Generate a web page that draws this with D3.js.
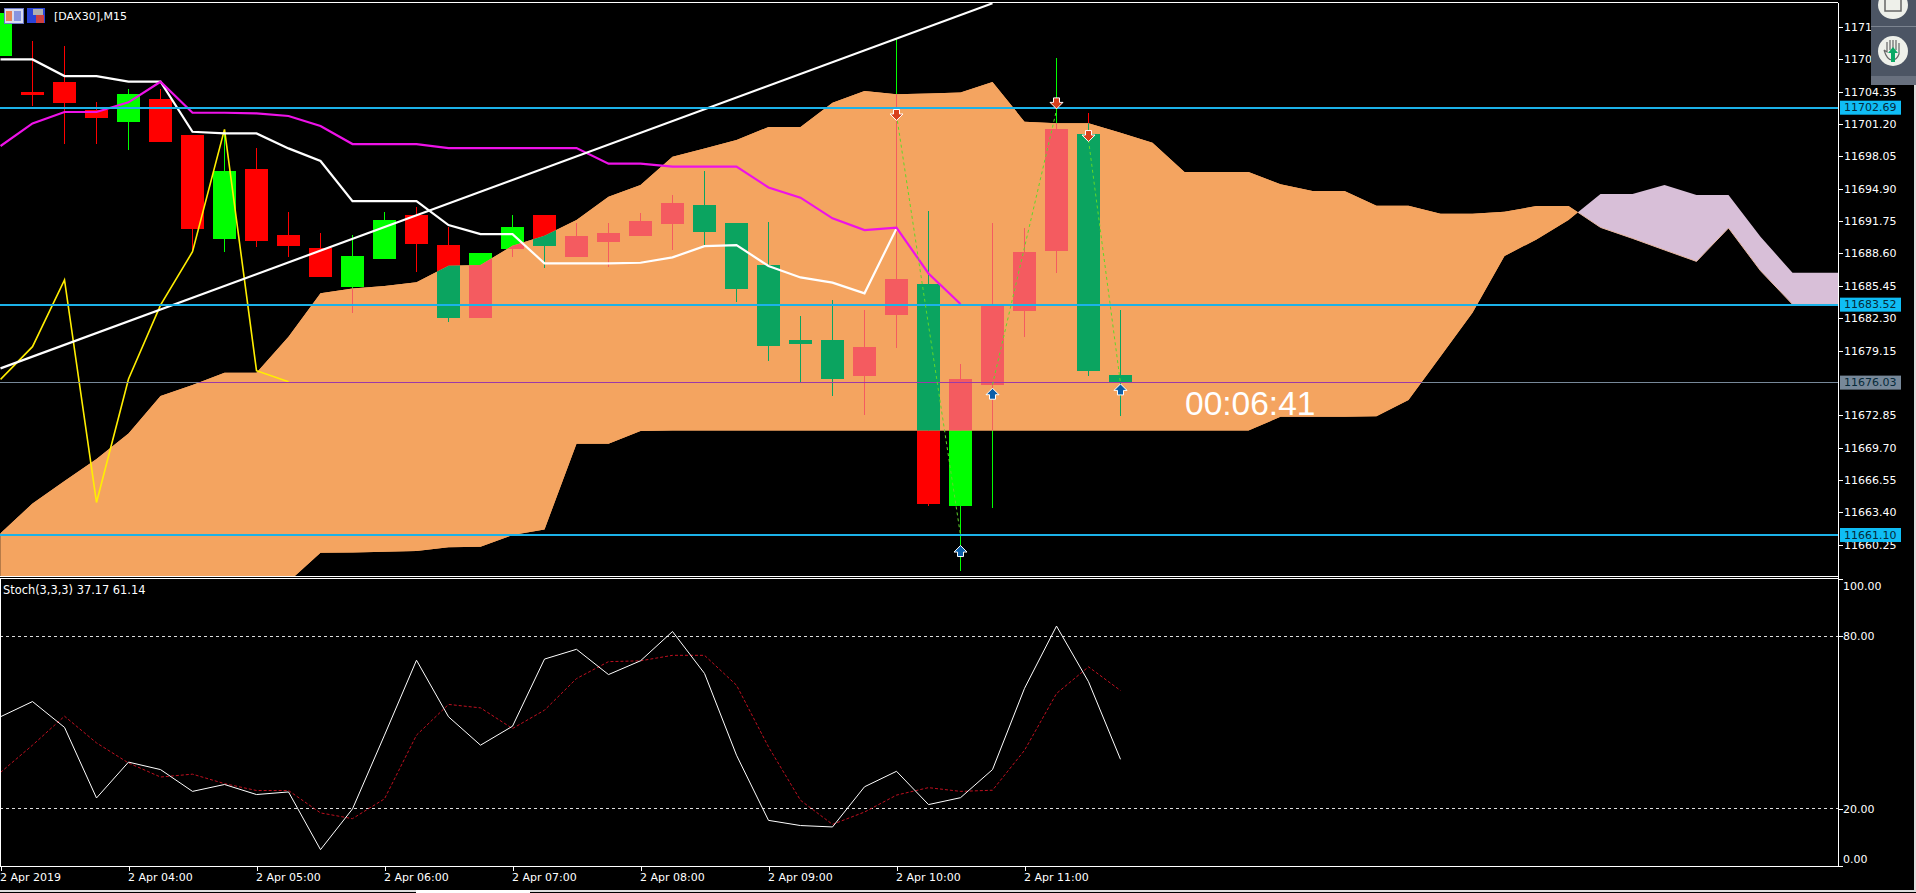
<!DOCTYPE html>
<html><head><meta charset="utf-8"><title>DAX30 M15</title>
<script src="https://cdnjs.cloudflare.com/ajax/libs/d3/7.8.5/d3.min.js"></script>
<style>
html,body{margin:0;padding:0;background:#000;overflow:hidden}
svg{display:block}
text{font-family:"DejaVu Sans",sans-serif;fill:#fff}
</style></head><body>
<svg id="c" width="1916" height="893"></svg>
<script>
// ---------- data ----------
const title = "[DAX30],M15";
const stochTitle = "Stoch(3,3,3) 37.17 61.14";
const timerText = "00:06:41";
const opens  = [11707.75,11704.21,11705.19,11702.46,11701.29,11703.53,11700.03,11689.91,11696.72,11690.30,11689.03,11685.23,11687.96,11692.24,11689.32,11682.25,11688.93,11692.24,11688.19,11689.61,11690.20,11691.37,11693.22,11691.46,11687.37,11680.07,11680.07,11676.57,11682.54,11685.53,11663.95,11675.73,11682.93,11688.77,11700.13,11676.67];
const closes = [11711.87,11703.92,11703.14,11701.72,11704.02,11699.35,11690.88,11696.52,11689.71,11689.22,11686.24,11688.25,11691.76,11689.42,11682.25,11688.51,11691.07,11689.26,11690.20,11690.52,11691.66,11693.41,11690.59,11685.04,11679.49,11679.69,11676.31,11679.39,11685.98,11664.11,11676.28,11683.58,11688.64,11700.61,11677.09,11675.89];
const highs  = [11711.87,11709.21,11708.69,11703.24,11704.51,11704.51,11700.03,11700.19,11698.73,11692.53,11690.46,11690.26,11692.53,11692.99,11691.11,11688.51,11692.24,11692.24,11691.50,11691.50,11692.40,11694.19,11696.52,11691.46,11691.59,11682.41,11683.97,11682.99,11709.44,11692.66,11677.74,11691.50,11690.94,11707.49,11702.14,11682.99];
const lows   = [11707.75,11702.85,11699.19,11699.19,11698.60,11699.35,11688.67,11688.67,11689.16,11688.19,11686.24,11682.67,11687.96,11686.73,11681.86,11682.25,11688.19,11687.05,11688.19,11687.21,11690.20,11688.83,11689.16,11683.81,11678.03,11675.92,11674.62,11672.77,11679.33,11663.92,11657.62,11663.69,11680.33,11686.56,11676.57,11672.71];
const tenkan = [11707.39,11707.39,11705.77,11705.77,11705.22,11705.22,11700.35,11700.19,11700.19,11698.73,11697.50,11693.60,11693.60,11693.60,11691.27,11690.39,11690.39,11687.54,11687.54,11687.54,11687.60,11688.12,11689.22,11689.32,11687.28,11686.17,11685.66,11684.62,11690.94];
const kijun  = [11698.96,11701.16,11702.27,11702.27,11703.21,11705.22,11702.20,11702.20,11702.14,11701.88,11700.91,11699.15,11699.15,11699.15,11698.76,11698.76,11698.76,11698.76,11698.76,11697.24,11697.24,11696.95,11696.95,11696.95,11694.93,11693.93,11691.92,11690.78,11691.01,11686.56,11683.58];
const chikou = [11676.25,11679.43,11685.92,11664.27,11676.28,11683.48,11688.67,11700.58,11677.09,11676.02];
const spanA  = [11654,11654,11654,11654,11654,11654,11654,11654,11654,11656.55,11659.37,11659.40,11659.47,11659.54,11659.92,11659.96,11661.09,11661.64,11669.98,11669.98,11671.22,11671.28,11671.28,11671.28,11671.28,11671.28,11671.28,11671.28,11671.28,11671.28,11671.28,11671.28,11671.28,11671.28,11671.28,11671.28,11671.28,11671.28,11671.28,11671.28,11672.61,11672.61,11672.61,11672.65,11674.23,11678.48,11682.74,11688.25,11689.87,11691.76,11694.29,11694.29,11695.16,11694.19,11694.19,11690.13,11686.63,11686.63,11686.63];
const spanB  = [11661.26,11664.17,11666.35,11668.49,11670.99,11674.62,11675.69,11676.89,11676.89,11680.40,11684.62,11685.10,11685.33,11685.69,11687.31,11687.37,11689.26,11690.23,11691.76,11694.03,11695.16,11697.92,11698.73,11699.54,11700.81,11700.81,11703.18,11704.31,11703.99,11704.08,11704.18,11705.19,11701.33,11701.17,11701.17,11700.26,11699.28,11696.43,11696.43,11696.43,11695.23,11694.58,11694.58,11693.15,11693.15,11692.37,11692.37,11692.57,11693.12,11693.12,11691.04,11689.97,11688.84,11687.73,11690.98,11686.82,11683.55,11683.55,11683.55];
const trendIdx = [0,31];
const trendPrice = [11677.32,11712.85];
const levelPrices = [11702.69,11683.52,11661.10];
const bidPrice = 11676.03;
const priceTicks = [11710.65,11707.50,11704.35,11701.20,11698.05,11694.90,11691.75,11688.60,11685.45,11682.30,11679.15,11672.85,11669.70,11666.55,11663.40,11660.25];
const stochMain = [52.0,57.3,48.3,23.7,36.2,33.6,26.0,28.4,24.9,25.8,5.7,19.9,45.6,71.7,52.0,42.1,48.7,72.1,75.5,66.7,71.5,81.7,67.1,38.6,15.9,14.1,13.6,27.6,33.0,21.4,23.8,33.6,61.9,83.6,64.2,37.17];
const stochSignal = [32.6,42.1,52.2,42.9,35.9,31.0,32.0,28.7,26.3,26.3,18.5,16.5,23.4,45.6,56.3,55.1,47.9,54.3,65.3,71.2,71.5,73.4,73.4,63.0,41.5,22.9,14.5,18.8,24.7,27.3,26.0,26.4,40.3,60.1,69.4,61.14];
const stochLevels = [80,20];
const stochTicks = [100,80,20,0];
const timeTickIdx = [0,4,8,12,16,20,24,28,32];
const timeLabels = ["2 Apr 2019","2 Apr 04:00","2 Apr 05:00","2 Apr 06:00","2 Apr 07:00","2 Apr 08:00","2 Apr 09:00","2 Apr 10:00","2 Apr 11:00"];
const zigzagSegments = [[[28,11701.98],[30,11661.09]],[[31,11675.73],[33,11702.46]],[[34,11699.54],[35,11675.86]]];
const sellArrowIdx = [28,33,34];
const sellArrowPrice = [11701.98,11703.11,11699.93];
const buyArrowIdx = [30,31,35];
const buyArrowPrice = [11659.54,11674.85,11675.27];

// ---------- layout ----------
const W=1916,H=893,R=1838,T=3,B=576,ST=579,SB=866;
const FONT='"DejaVu Sans",sans-serif';
const svg=d3.select("#c");
const x=d3.scaleLinear().domain([0,60]).range([0.5,1920.5]);
const y=d3.scaleLinear().domain([11712.88,11657.11]).range([T,B]);
const ys=d3.scaleLinear().domain([0,100]).range([SB,ST]);
const defs=svg.append("defs");
defs.append("clipPath").attr("id","pane").append("rect").attr("x",0).attr("y",T).attr("width",R).attr("height",B-T);

// ---------- cloud ----------
let cross=0;
for(let i=0;i<spanA.length-1;i++){ if(spanB[i]>spanA[i] && spanB[i+1]<spanA[i+1]){
  const d0=spanB[i]-spanA[i], d1=spanA[i+1]-spanB[i+1], t=d0/(d0+d1);
  cross={i:i+t,a:spanA[i]+t*(spanA[i+1]-spanA[i]),b:spanA[i]+t*(spanA[i+1]-spanA[i])}; break; } }
const pts=spanA.map((a,i)=>({i,a,b:spanB[i]}));
const orange=[...pts.filter(d=>d.i<cross.i),cross];
const lilac=[cross,...pts.filter(d=>d.i>cross.i)];
const area=d3.area().x(d=>x(d.i)).y0(d=>y(d.a)).y1(d=>y(d.b));
const main=svg.append("g").attr("clip-path","url(#pane)");
defs.append("clipPath").attr("id","cloud").append("path").attr("d",area(orange));
main.append("path").attr("d",area(orange)).attr("fill","#f4a460");
main.append("path").attr("d",area(lilac)).attr("fill","#d8bfd8");
main.append("path").attr("d",d3.line().x(d=>x(d.i)).y(d=>y(d.b))(lilac)).attr("fill","none").attr("stroke","#e8b8a0").attr("stroke-width",1);

// ---------- candles: outside the cloud pure colours, inside the XOR colours ----------
const candles=opens.map((o,i)=>({i,o,c:closes[i],h:highs[i],l:lows[i]}));
function drawCandles(g,bull,bear){
  const s=g.selectAll("g").data(candles).join("g").attr("shape-rendering","crispEdges")
    .attr("fill",d=>d.c>=d.o?bull:bear);
  s.append("rect").attr("x",d=>x(d.i)-0.5).attr("width",1).attr("y",d=>y(d.h)).attr("height",d=>y(d.l)-y(d.h));
  s.append("rect").attr("x",d=>x(d.i)-12).attr("width",23)
    .attr("y",d=>y(Math.max(d.o,d.c))).attr("height",d=>y(Math.min(d.o,d.c))-y(Math.max(d.o,d.c)));
}
drawCandles(main.append("g"),"#00ff00","#ff0000");
const inCloud=main.append("g").attr("clip-path","url(#cloud)");
inCloud.append("rect").attr("x",0).attr("y",T).attr("width",R).attr("height",B-T).attr("fill","#f4a460");
drawCandles(inCloud.append("g"),"#f45b60","#0ba460");

// ---------- lines ----------
const line=d3.line().x((d,i)=>x(i)).y(d=>y(d));
main.append("path").attr("d",line(chikou)).attr("fill","none").attr("stroke","#ffee00").attr("stroke-width",1.6);
main.append("path").attr("d",line(tenkan)).attr("fill","none").attr("stroke","#fff").attr("stroke-width",2.2);
main.append("path").attr("d",line(kijun)).attr("fill","none").attr("stroke","#ee12e8").attr("stroke-width",2.2);
main.append("line").attr("x1",x(trendIdx[0])).attr("y1",y(trendPrice[0])).attr("x2",x(trendIdx[1])).attr("y2",y(trendPrice[1])).attr("stroke","#fff").attr("stroke-width",2.2);

// bid line (grey on black, purple in the cloud)
main.append("line").attr("x1",0).attr("x2",R).attr("y1",y(bidPrice)+1).attr("y2",y(bidPrice)+1).attr("stroke","#778899").attr("stroke-width",1).attr("shape-rendering","crispEdges");
main.append("line").attr("clip-path","url(#cloud)").attr("x1",0).attr("x2",R).attr("y1",y(bidPrice)+1).attr("y2",y(bidPrice)+1).attr("stroke","#9c3aa8").attr("stroke-width",1).attr("shape-rendering","crispEdges");
// support / resistance lines
main.selectAll(".lvl").data(levelPrices).join("line").attr("class","lvl").attr("x1",0).attr("x2",R)
  .attr("y1",d=>y(d)).attr("y2",d=>y(d)).attr("stroke","#1cb2e8").attr("stroke-width",2).attr("shape-rendering","crispEdges");
// zigzag
zigzagSegments.forEach(s=>{
  main.append("line").attr("x1",x(s[0][0])).attr("y1",y(s[0][1])).attr("x2",x(s[1][0])).attr("y2",y(s[1][1]))
   .attr("stroke","#5fd82a").attr("stroke-width",1).attr("stroke-dasharray","3,3");
});
// arrows
const downArrow="M-3,-5.5L3,-5.5L3,-1L6.5,-1L0,5.5L-6.5,-1L-3,-1Z", upArrow="M0,-5.5L6.5,1L3,1L3,5.5L-3,5.5L-3,1L-6.5,1Z";
sellArrowIdx.forEach((k,j)=>main.append("path").attr("d",downArrow).attr("transform",`translate(${x(k)},${y(sellArrowPrice[j])})`).attr("fill","#d8401c").attr("stroke","#fff").attr("stroke-width",1));
buyArrowIdx.forEach((k,j)=>main.append("path").attr("d",upArrow).attr("transform",`translate(${x(k)},${y(buyArrowPrice[j])})`).attr("fill","#0b5ea8").attr("stroke","#fff").attr("stroke-width",1));

// timer
main.append("text").attr("x",1185).attr("y",403).attr("dominant-baseline","central").attr("font-size",33.5).style("font-family",'"Liberation Sans",Arial,sans-serif').text(timerText);

// ---------- stochastic pane ----------
const stoch=svg.append("g");
stoch.selectAll("line").data(stochLevels).join("line").attr("x1",0).attr("x2",R).attr("y1",d=>ys(d)).attr("y2",d=>ys(d))
  .attr("stroke","#ddd").attr("stroke-dasharray","3,3").attr("stroke-width",1).attr("shape-rendering","crispEdges");
const sl=d3.line().x((d,i)=>x(i)).y(d=>ys(d));
stoch.append("path").attr("d",sl(stochSignal)).attr("fill","none").attr("stroke","#c01020").attr("stroke-width",1).attr("stroke-dasharray","3,2");
stoch.append("path").attr("d",sl(stochMain)).attr("fill","none").attr("stroke","#fff").attr("stroke-width",1);

// ---------- frames ----------
const frame=[[0,T-.5,R,T-.5],[0,B+.5,R,B+.5],[0,ST-.5,R,ST-.5],[0,SB+.5,R,SB+.5],[R,T-.5,R,SB+.5],[.5,ST,.5,SB]];
svg.append("g").selectAll("line").data(frame).join("line").attr("x1",d=>d[0]).attr("y1",d=>d[1]).attr("x2",d=>d[2]).attr("y2",d=>d[3])
  .attr("stroke","#fff").attr("stroke-width",1).attr("shape-rendering","crispEdges");

// ---------- axes ----------
function styleAxis(g){ g.select(".domain").remove(); g.selectAll("line").attr("stroke","#fff").attr("shape-rendering","crispEdges");
  g.selectAll("text").attr("font-size",11).attr("font-family",FONT).attr("fill","#fff"); }
const pa=svg.append("g").attr("transform",`translate(${R},1)`).call(d3.axisRight(y).tickValues(priceTicks).tickFormat(d3.format(".2f")).tickSize(5).tickPadding(1));
styleAxis(pa);
const sa=svg.append("g").attr("transform",`translate(${R},0)`).call(d3.axisRight(ys).tickValues(stochTicks).tickFormat(d3.format(".2f")).tickSize(5).tickPadding(0));
styleAxis(sa);
sa.selectAll("g.tick text").attr("dy",d=>d===100?"0.95em":d===0?"-0.3em":"0.32em");
const ta=svg.append("g").attr("transform",`translate(0,${SB})`).call(d3.axisBottom(x).tickValues(timeTickIdx).tickFormat((d,i)=>timeLabels[i]).tickSize(5).tickPadding(2));
styleAxis(ta);
ta.selectAll("g.tick text").attr("text-anchor","start").attr("x",-1);

// ---------- current price labels ----------
const tags=[...levelPrices.map(p=>({p,fill:"#0fbdf5",off:0})),{p:bidPrice,fill:"#778899",off:1}];
const tg=svg.selectAll(".tag").data(tags).join("g").attr("class","tag").attr("transform",d=>`translate(1840,${y(d.p)+d.off})`);
tg.append("rect").attr("x",0).attr("y",-7).attr("width",61).attr("height",14).attr("fill",d=>d.fill);
tg.append("text").attr("x",4).attr("y",0).attr("dominant-baseline","central").attr("font-size",11).style("fill","#062a3a").text(d=>d3.format(".2f")(d.p));

// ---------- headers ----------
svg.append("text").attr("x",54).attr("y",16).attr("dominant-baseline","central").attr("font-size",11).text(title);
svg.append("text").attr("x",3).attr("y",590).attr("dominant-baseline","central").attr("font-size",11.4).text(stochTitle);

// small chart icons
const ic=svg.append("g").attr("shape-rendering","crispEdges");
ic.append("rect").attr("x",4).attr("y",8).attr("width",19).attr("height",15).attr("fill","#d8dcf0").attr("stroke","#6a78c8");
ic.append("rect").attr("x",6).attr("y",11).attr("width",6).attr("height",10).attr("fill","#e8805a");
ic.append("rect").attr("x",14).attr("y",11).attr("width",7).attr("height",10).attr("fill","#8894e0");
ic.append("rect").attr("x",27).attr("y",8).attr("width",18).attr("height",15).attr("fill","#2a44d8");
ic.append("rect").attr("x",33).attr("y",9).attr("width",10).attr("height",6).attr("fill","#b0b0b0");
ic.append("rect").attr("x",36).attr("y",15).attr("width",8).attr("height",8).attr("fill","#d04040");

// right-hand toolbar overlay
const tb=svg.append("g");
tb.append("rect").attr("x",1871).attr("y",0).attr("width",45).attr("height",85).attr("fill","#4c5564");
tb.append("rect").attr("x",1871).attr("y",26).attr("width",45).attr("height",1).attr("fill","#7c8490");
tb.append("rect").attr("x",1871).attr("y",76).attr("width",45).attr("height",9).attr("fill","#68707e");
tb.append("ellipse").attr("cx",1893).attr("cy",5).attr("rx",15).attr("ry",14).attr("fill","#eef0ea");
tb.append("rect").attr("x",1885).attr("y",-2).attr("width",16).attr("height",13).attr("fill","none").attr("stroke","#666").attr("stroke-width",1.5);
tb.append("ellipse").attr("cx",1893).attr("cy",51).attr("rx",15).attr("ry",15).attr("fill","#eef0ea");
tb.append("path").attr("d","M1884,50L1887,52L1887,42M1890,40L1890,50M1893,40L1893,50M1896,40L1896,50M1899,43L1899,54Q1897,60 1892,60Q1887,60 1884,50").attr("fill","none").attr("stroke","#666").attr("stroke-width",1.2);
tb.append("path").attr("d","M1893,47L1898,53L1895,53L1895,62L1891,62L1891,53L1888,53Z").attr("fill","#0aa864");

// window edges
const ed=svg.append("g").attr("shape-rendering","crispEdges");
ed.append("rect").attr("x",0).attr("y",890).attr("width",W).attr("height",1.5).attr("fill","#ddd");
ed.append("rect").attr("x",416).attr("y",890).attr("width",114).attr("height",3).attr("fill","#fff");
ed.append("rect").attr("x",1914).attr("y",85).attr("width",1.5).attr("height",806).attr("fill","#ddd");
</script>
</body></html>
